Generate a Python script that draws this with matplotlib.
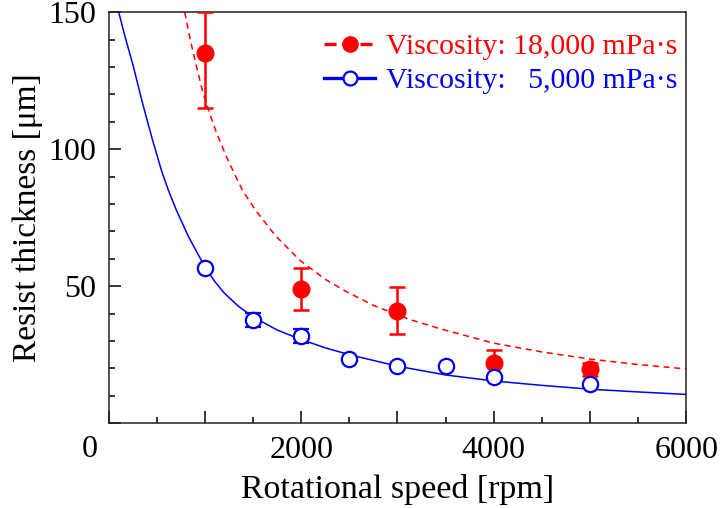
import numpy as np
import matplotlib
matplotlib.use("Agg")
import matplotlib.pyplot as plt
from matplotlib.lines import Line2D
from matplotlib.ticker import MultipleLocator, FuncFormatter

plt.rcParams['font.family'] = ['Liberation Serif', 'DejaVu Serif']

# measured points
speed_hi = [1000, 2000, 3000, 4000, 5000]
thick_hi = [135, 49.1, 41.0, 22.0, 19.7]
err_hi_lo = [20, 7.9, 8.6, 4.7, 2.6]
err_hi_up = [15, 7.7, 8.6, 4.6, 2.3]

speed_lo = [1000, 1500, 2000, 2500, 3000, 3500, 4000, 5000]
thick_lo = [56.7, 37.6, 31.9, 23.5, 20.7, 20.8, 16.8, 14.2]
err_lo = [0, 2.6, 2.5, 0, 0, 0, 0, 0]

# fitted curves
fit_x_hi = [790, 850, 920, 980, 1050, 1120, 1220, 1300, 1390, 1520, 1730, 1985,
            2250, 2470, 2750, 3130, 3440, 4000, 4500, 5000, 5500, 6000]
fit_y_hi = [150, 139.5, 129, 120.5, 113, 106, 97.5, 91.5, 85, 78, 68.5, 59.5,
            52.5, 48, 43, 37.8, 34.5, 29.2, 26, 23.4, 21.4, 19.8]

fit_x_lo = [104, 170, 250, 350, 450, 550, 620, 700, 830, 1000, 1100, 1200, 1350, 1500,
            1750, 2000, 2250, 2500, 3000, 3500, 4000, 4500, 5000, 5500, 6000]
fit_y_lo = [150, 141, 131, 117, 104, 92, 85, 78, 68, 57, 51.8, 47.5, 42.6, 38.8,
            34, 30.5, 27.5, 25, 20.8, 17.6, 15.4, 13.8, 12.4, 11.4, 10.5]

red = '#ff0000'
blue = '#0000ee'

fig = plt.figure(figsize=(7.2, 5.08), dpi=100)
ax = fig.add_axes([0.151, 0.167, 0.802, 0.809])

ax.plot(fit_x_hi, fit_y_hi, color=red, lw=1.1, dashes=(4, 3))
ax.plot(fit_x_lo, fit_y_lo, color=blue, lw=1.1)

ax.errorbar(speed_hi, thick_hi, yerr=[err_hi_lo, err_hi_up], fmt='o', color=red,
            ms=12, elinewidth=1.8, capsize=6, capthick=1.8, zorder=4)
ax.errorbar(speed_lo, thick_lo, yerr=err_lo, fmt='o', color=blue, mfc='white',
            mec=blue, mew=1.6, ms=11, elinewidth=1.8, capsize=6, capthick=1.8, zorder=5)

ax.set_xlim(0, 6000)
ax.set_ylim(0, 150)
ax.xaxis.set_major_locator(MultipleLocator(1000))
ax.xaxis.set_minor_locator(MultipleLocator(500))
ax.yaxis.set_major_locator(MultipleLocator(50))
ax.yaxis.set_minor_locator(MultipleLocator(10))
ax.xaxis.set_major_formatter(FuncFormatter(
    lambda v, p: '%d' % v if (v % 2000 == 0 and v > 0) else ''))
ax.yaxis.set_major_formatter(FuncFormatter(lambda v, p: '%d' % v if v > 0 else ''))
ax.tick_params(which='both', direction='in', labelsize=23, width=1.1)
ax.tick_params(which='major', length=8.5, pad=9)
ax.tick_params(which='minor', length=4.5)
for s in ax.spines.values():
    s.set_linewidth(1.1)
    s.set_color('#222222')

ax.annotate('0', xy=(0, 0), xycoords='axes fraction', xytext=(-19, -12),
            textcoords='offset pixels', ha='center', va='top', fontsize=23)

ax.set_xlabel('Rotational speed [rpm]', fontsize=24.5, labelpad=7)
ax.set_ylabel('Resist thickness [μm]', fontsize=24, labelpad=4)

handles = [
    Line2D([], [], color=red, lw=2.4, dashes=(3.6, 1.8), marker='o', ms=11),
    Line2D([], [], color=blue, lw=2.4, marker='o', ms=10, mfc='white', mew=1.6),
]
leg = ax.legend(handles, ['Viscosity: 18,000 mPa·s', 'Viscosity:   5,000 mPa·s'],
                loc='upper right', bbox_to_anchor=(1.005, 0.978), frameon=False,
                fontsize=21.5, handlelength=1.7, handletextpad=0.35,
                labelspacing=0.25, borderaxespad=0)
for t, c in zip(leg.get_texts(), [red, blue]):
    t.set_color(c)

fig.savefig('out.png', dpi=100)
